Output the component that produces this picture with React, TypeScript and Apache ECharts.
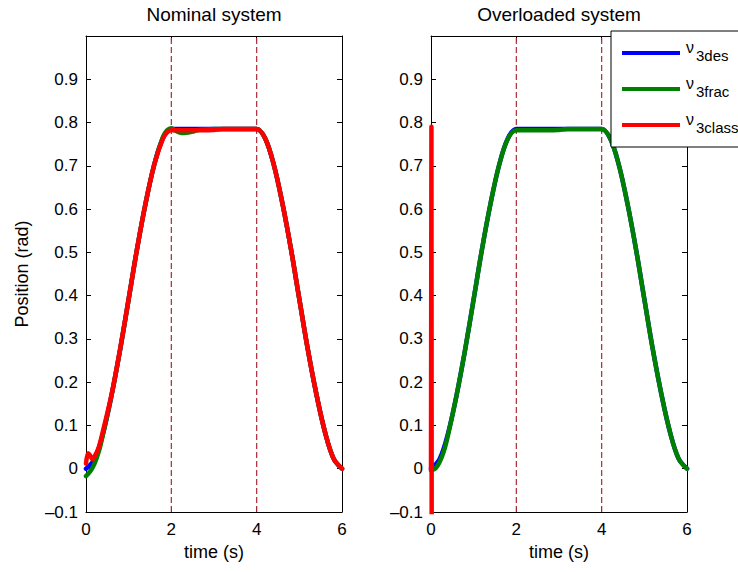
import React, { useEffect, useRef } from "react";
import * as echarts from "echarts";

// ---- data ----
const desT = [0, 0.2, 0.4, 0.6, 0.8, 1.0, 1.2, 1.4, 1.6, 1.8, 2.0, 2.2, 2.4, 2.6, 2.8, 3.0, 3.2, 3.4, 3.6, 3.8, 4.0, 4.2, 4.4, 4.6, 4.8, 5.0, 5.2, 5.4, 5.6, 5.8, 6.0];
const desV = [0, 0.022, 0.082, 0.17, 0.275, 0.392, 0.51, 0.615, 0.703, 0.763, 0.785, 0.785, 0.785, 0.785, 0.785, 0.785, 0.785, 0.785, 0.785, 0.785, 0.785, 0.763, 0.703, 0.615, 0.51, 0.392, 0.275, 0.172, 0.085, 0.024, 0];

// nominal system, fractional controller
const fracNomT = [0, 0.1, 0.2, 0.3, 0.4, 0.6, 0.8, 1.0, 1.2, 1.4, 1.6, 1.8, 1.9, 2.0, 2.1, 2.2, 2.3, 2.4, 2.5, 2.6, 2.8, 3.0, 3.2, 3.6, 4.0, 4.2, 4.4, 4.6, 4.8, 5.0, 5.2, 5.4, 5.6, 5.8, 6.0];
const fracNomV = [-0.017, -0.006, 0.012, 0.04, 0.08, 0.17, 0.275, 0.392, 0.51, 0.615, 0.703, 0.766, 0.782, 0.787, 0.781, 0.777, 0.776, 0.777, 0.779, 0.782, 0.784, 0.785, 0.785, 0.785, 0.785, 0.763, 0.703, 0.615, 0.51, 0.392, 0.275, 0.172, 0.085, 0.024, 0];

// nominal system, classical controller
const classNomT = [0, 0.05, 0.1, 0.15, 0.2, 0.3, 0.4, 0.6, 0.8, 1.0, 1.2, 1.4, 1.6, 1.8, 1.9, 2.0, 2.2, 2.4, 2.6, 2.8, 3.0, 3.1, 3.2, 3.6, 4.0, 4.2, 4.4, 4.6, 4.8, 5.0, 5.2, 5.4, 5.6, 5.8, 6.0];
const classNomV = [0.012, 0.036, 0.03, 0.022, 0.028, 0.05, 0.088, 0.172, 0.277, 0.393, 0.51, 0.615, 0.703, 0.762, 0.777, 0.782, 0.782, 0.782, 0.782, 0.782, 0.783, 0.784, 0.785, 0.785, 0.785, 0.763, 0.703, 0.615, 0.51, 0.392, 0.275, 0.172, 0.085, 0.024, 0];

// overloaded system, fractional controller
const fracOvlT = [0, 0.1, 0.2, 0.3, 0.4, 0.6, 0.8, 1.0, 1.2, 1.4, 1.6, 1.8, 2.0, 2.2, 2.4, 2.6, 2.8, 3.0, 3.1, 3.2, 3.6, 4.0, 4.2, 4.4, 4.6, 4.8, 5.0, 5.2, 5.4, 5.6, 5.8, 6.0];
const fracOvlV = [-0.004, 0.0, 0.015, 0.04, 0.078, 0.17, 0.275, 0.392, 0.51, 0.615, 0.703, 0.762, 0.782, 0.782, 0.782, 0.782, 0.782, 0.783, 0.784, 0.785, 0.785, 0.785, 0.763, 0.703, 0.615, 0.51, 0.392, 0.275, 0.172, 0.085, 0.024, 0];

// overloaded system, classical controller (diverges off-scale)
const classOvlT = [0, 0.01, 0.025];
const classOvlV = [0, 0.79, -1.5];

const refLines = [2, 4];
const xTicks = { min: 0, max: 6, interval: 2 };
const yTicks = { min: -0.1, max: 1, interval: 0.1 };
const titles = ["Nominal system", "Overloaded system"];
const legendNames = ["3des", "3frac", "3class"];

const FONT = "'Liberation Sans', Arial, Helvetica, sans-serif";
const C_DES = "#0000ff";
const C_FRAC = "#008000";
const C_CLASS = "#ff0000";
const C_DASH = "#aa2a3a";

const pairs = (t: number[], v: number[]) => t.map((x, i) => [x, v[i]]);

export default function App() {
  const ref = useRef<HTMLDivElement>(null);
  useEffect(() => {
    if (!ref.current) return;
    const chart = echarts.init(ref.current, undefined, { renderer: "svg" });
    const grids = [
      { left: 86, top: 36, width: 256, height: 476 },
      { left: 431, top: 36, width: 256, height: 476 },
    ];
    const xAxes: any[] = [];
    const yAxes: any[] = [];
    grids.forEach((_, gi) => {
      const common = {
        gridIndex: gi,
        type: "value",
        splitLine: { show: false },
        axisLine: { show: true, onZero: false, lineStyle: { color: "#000", width: 1 } },
        axisTick: { show: true, inside: true, length: 5, lineStyle: { color: "#000" } },
      };
      xAxes.push({
        ...common,
        ...xTicks,
        position: "bottom",
        axisLabel: { color: "#000", fontSize: 17, fontFamily: FONT, margin: 9 },
        name: "time (s)",
        nameLocation: "middle",
        nameGap: 30,
        nameTextStyle: { color: "#000", fontSize: 18, fontFamily: FONT },
      });
      xAxes.push({ ...common, ...xTicks, position: "top", axisLabel: { show: false } });
      yAxes.push({
        ...common,
        ...yTicks,
        position: "left",
        axisLabel: {
          color: "#000",
          fontSize: 17,
          fontFamily: FONT,
          margin: 8,
          formatter: (v: number) => {
            const r = Math.round(v * 10) / 10;
            if (r >= 1) return "";
            if (r < 0) return "\u2013" + Math.abs(r);
            return r === 0 ? "0" : String(r);
          },
        },
        ...(gi === 0
          ? {
              name: "Position (rad)",
              nameLocation: "middle",
              nameRotate: 90,
              nameGap: 55,
              nameTextStyle: { color: "#000", fontSize: 18, fontFamily: FONT },
            }
          : {}),
      });
      yAxes.push({ ...common, ...yTicks, position: "right", axisLabel: { show: false } });
    });

    const series: any[] = [];
    grids.forEach((_, gi) => {
      const xi = gi * 2;
      const yi = gi * 2;
      refLines.forEach((x) => {
        series.push({
          type: "line",
          xAxisIndex: xi,
          yAxisIndex: yi,
          data: [[x, yTicks.min], [x, yTicks.max]],
          symbol: "none",
          lineStyle: { color: C_DASH, width: 1.2, type: [6, 3] },
          silent: true,
        });
      });
      const lines =
        gi === 0
          ? [
              [desT, desV, C_DES, true],
              [fracNomT, fracNomV, C_FRAC, true],
              [classNomT, classNomV, C_CLASS, true],
            ]
          : [
              [desT, desV, C_DES, true],
              [fracOvlT, fracOvlV, C_FRAC, true],
              [classOvlT, classOvlV, C_CLASS, false],
            ];
      lines.forEach(([t, v, c, sm]) => {
        series.push({
          type: "line",
          xAxisIndex: xi,
          yAxisIndex: yi,
          data: pairs(t as number[], v as number[]),
          symbol: "none",
          clip: true,
          smooth: sm ? 0.35 : false,
          lineStyle: { color: c, width: 4.5, join: "round", cap: "round" },
        });
      });
    });

    const legendColors = [C_DES, C_FRAC, C_CLASS];
    const legendEls: any[] = [
      {
        type: "rect",
        shape: { x: 611, y: 31, width: 160, height: 116 },
        style: { fill: "#fff", stroke: "#000", lineWidth: 1 },
        z: 100,
      },
    ];
    legendNames.forEach((n, i) => {
      const y = 53 + i * 36;
      legendEls.push({
        type: "line",
        shape: { x1: 622, y1: y, x2: 680, y2: y },
        style: { stroke: legendColors[i], lineWidth: 4 },
        z: 101,
      });
      legendEls.push({
        type: "text",
        x: 686,
        y: y - 6,
        style: { text: "\u03bd", font: `16px ${FONT}`, fill: "#000", align: "left", verticalAlign: "middle", textAlign: "left", textVerticalAlign: "middle" },
        z: 101,
      });
      legendEls.push({
        type: "text",
        x: 696,
        y: y + 2,
        style: { text: n, font: `15px ${FONT}`, fill: "#000", align: "left", verticalAlign: "middle", textAlign: "left", textVerticalAlign: "middle" },
        z: 101,
      });
    });
    titles.forEach((t, i) => {
      legendEls.push({
        type: "text",
        x: grids[i].left + grids[i].width / 2,
        y: 14,
        style: { text: t, font: `19px ${FONT}`, fill: "#000", align: "center", verticalAlign: "middle", textAlign: "center", textVerticalAlign: "middle" },
        z: 50,
      });
    });

    chart.setOption({
      animation: false,
      backgroundColor: "#fff",
      grid: grids,
      xAxis: xAxes,
      yAxis: yAxes,
      series,
      graphic: { elements: legendEls },
    });
    return () => chart.dispose();
  }, []);
  return <div ref={ref} style={{ width: 738, height: 572, position: "absolute", left: 0, top: 0 }} />;
}
